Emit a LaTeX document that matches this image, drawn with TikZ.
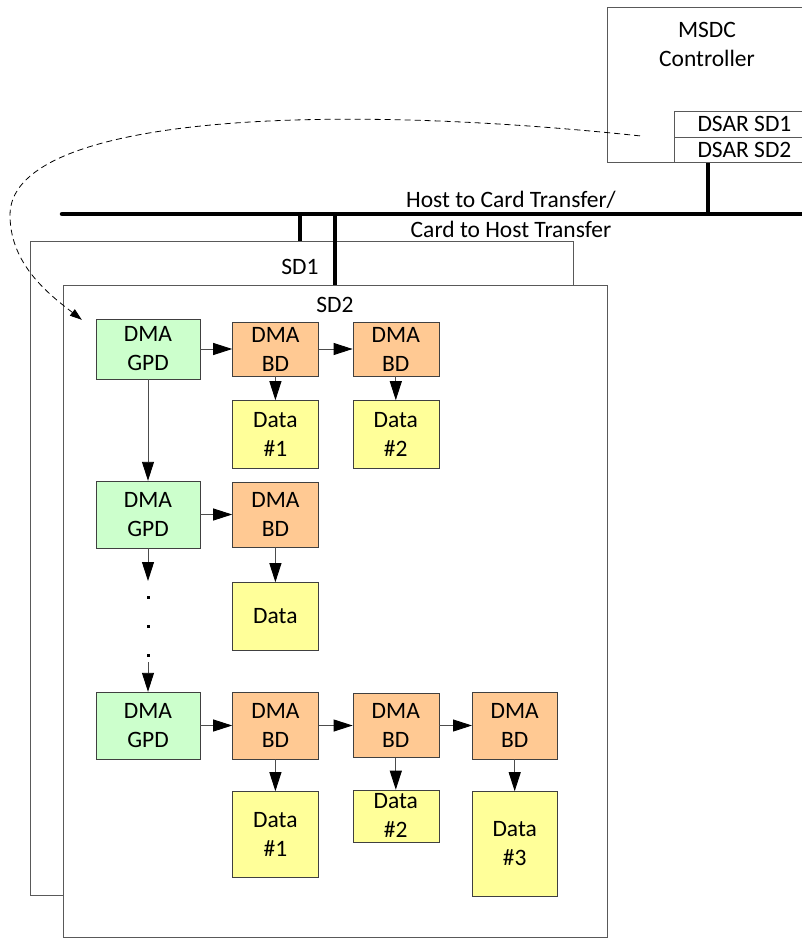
\documentclass[tikz,border=0pt]{standalone}
\usepackage{fontspec}
\setmainfont{Carlito}
\usetikzlibrary{arrows.meta,positioning}
\definecolor{gpdgreen}{HTML}{CCFFCC}
\definecolor{bdorange}{HTML}{FFC993}
\definecolor{datayellow}{HTML}{FFFF99}
\definecolor{edgegray}{HTML}{404040}
\tikzset{
  gpd/.style  ={rectangle,draw=edgegray,fill=gpdgreen,minimum width=104pt,
                minimum height=67pt,inner sep=0pt,align=center},
  bd/.style   ={rectangle,draw=edgegray,fill=bdorange,minimum width=86pt,
                minimum height=65pt,inner sep=0pt,align=center},
  datab/.style={rectangle,draw=edgegray,fill=datayellow,minimum width=86pt,
                minimum height=68pt,inner sep=0pt,align=center},
  frame/.style={rectangle,draw=black!65,fill=white,inner sep=0pt,
                anchor=north west,line width=0.9pt},
  lbl/.style  ={inner sep=0pt,align=center},
  vdot/.style ={rectangle,fill=black,minimum size=3pt,inner sep=0pt},
  bus/.style  ={line width=4.5pt},
  arr/.style  ={-{Triangle[length=19pt,width=12pt,color=black]},draw=black!70,
                line width=0.9pt},
  ptr/.style  ={-{Triangle[length=12pt,width=8pt]},dash pattern=on 6pt off 4pt,
                line width=0.8pt}
}

\begin{document}
\begin{tikzpicture}[x=1pt,y=-1pt,font=\fontsize{23.5}{29}\selectfont]
  \useasboundingbox (0,0) rectangle (802,939);

  % Controller and card frames
  \node (msdc) [frame, minimum width=215pt, minimum height=155pt] at (607,7) {};
  \node (msdclbl) [lbl] at (707,44) {MSDC\\Controller};
  \node (dsar1) [frame, minimum width=140pt, minimum height=26pt] at (674,111) {DSAR SD1};
  \node (dsar2) [frame, minimum width=140pt, minimum height=25pt] at (674,137) {DSAR SD2};
  \node (sd1) [frame, minimum width=543pt, minimum height=654pt] at (30,241) {};
  \node (sd1lbl) [lbl] at (300,267) {SD1};
  \node (sd2) [frame, minimum width=544pt, minimum height=652pt] at (63,285) {};
  \node (sd2lbl) [lbl] at (335,305) {SD2};

  % Bus
  \coordinate (busL) at (62,214);
  \coordinate (busR) at (812,214);
  \draw [bus, line cap=round] (busL) -- (busR);
  \draw [bus] ([xshift=34pt]dsar2.south west) -- ([xshift=34pt]dsar2.south west |- busL);
  \draw [bus] (sd1lbl |- busL) -- (sd1lbl |- sd1.north);
  \draw [bus] (sd2lbl |- busL) -- (sd2lbl |- sd2.north);
  \node (h2c) [lbl] at (511,200) {Host to Card Transfer/};
  \node (c2h) [lbl] at (511,229) {Card to Host Transfer};

  % Descriptor chains
  \node (gpd1)   [gpd, minimum height=60pt] at (148,349) {DMA\\GPD};
  \node (bd1a)   [bd, minimum height=54pt, right=32pt of gpd1] {DMA\\BD};
  \node (bd1b)   [bd, minimum height=54pt, right=34pt of bd1a] {DMA\\BD};
  \node (data1a) [datab, below=24pt of bd1a] {Data\\\#1};
  \node (data1b) [datab, below=24pt of bd1b] {Data\\\#2};

  \node (gpd2)   [gpd] at (148,514.5) {DMA\\GPD};
  \node (bd2)    [bd, right=32pt of gpd2] {DMA\\BD};
  \node (data2)  [datab, below=35pt of bd2] {Data};

  \node (gpd3)   [gpd] at (148,725.5) {DMA\\GPD};
  \node (bd3a)   [bd, minimum height=67pt, right=32pt of gpd3] {DMA\\BD};
  \node (bd3b)   [bd, minimum height=64pt, right=34pt of bd3a] {DMA\\BD};
  \node (bd3c)   [bd, minimum height=67pt, minimum width=85pt, right=33pt of bd3b] {DMA\\BD};
  \node (data3a) [datab, minimum height=86pt, below=32pt of bd3a] {Data\\\#1};
  \node (data3b) [datab, minimum height=52pt, below=32pt of bd3b] {Data\\\#2};
  \node (data3c) [datab, minimum height=105pt, minimum width=85pt, below=32pt of bd3c] {Data\\\#3};

  \coordinate (gapTop) at (148,581);
  \coordinate (gapBot) at (148,662);
  \foreach \y [count=\i] in {597,626,655}
    \node (dot\i) [vdot] at (148,\y) {};

  % Arrows
  \draw [arr] (gpd1) -- (bd1a);
  \draw [arr] (bd1a) -- (bd1b);
  \draw [arr] (bd1a) -- (data1a);
  \draw [arr] (bd1b) -- (data1b);
  \draw [arr] (gpd1) -- (gpd2);
  \draw [arr] (gpd2) -- (bd2);
  \draw [arr] (bd2) -- (data2);
  \draw [arr] (gpd2) -- (gapTop);
  \draw [arr] (gapBot) -- (gpd3);
  \draw [arr] (gpd3) -- (bd3a);
  \draw [arr] (bd3a) -- (bd3b);
  \draw [arr] (bd3b) -- (bd3c);
  \draw [arr] (bd3a) -- (data3a);
  \draw [arr] (bd3b) -- (data3b);
  \draw [arr] (bd3c) -- (data3c);

  % Descriptor pointer
  \draw [ptr] ([xshift=-34pt,yshift=2pt]dsar1.south west)
    .. controls (300,100) and (10,120) .. (10,215)
    .. controls (10,265) and (50,295) .. ([xshift=-14pt,yshift=-1pt]gpd1.north west);
\end{tikzpicture}
\end{document}
